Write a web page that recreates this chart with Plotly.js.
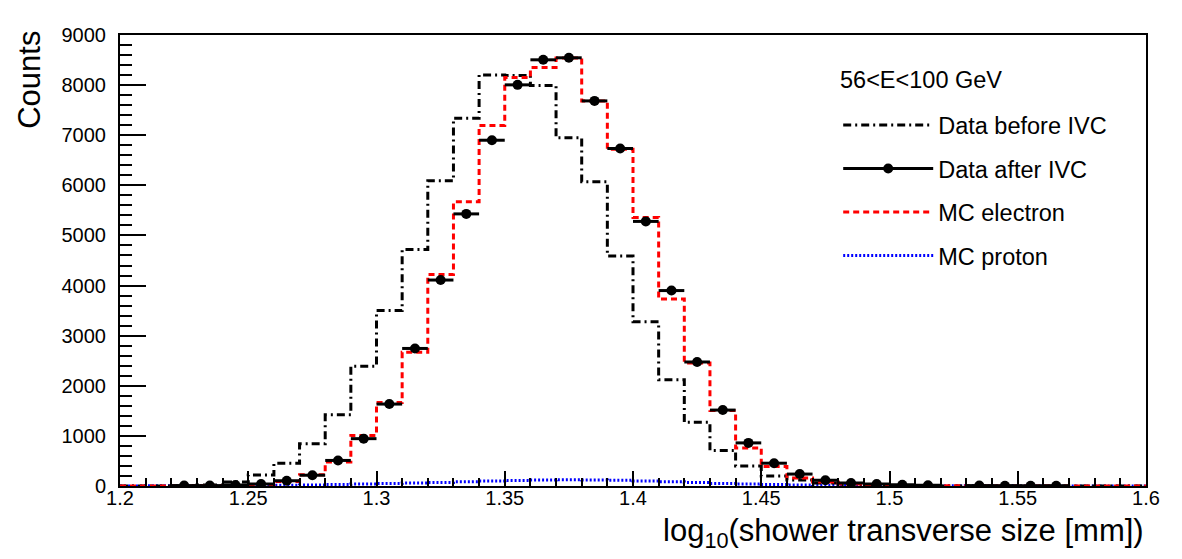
<!DOCTYPE html>
<html>
<head>
<meta charset="utf-8">
<script src="https://cdn.plot.ly/plotly-3.0.1.min.js"></script>
<style>html,body{margin:0;padding:0;background:#fff;}#plot{width:1182px;height:559px;}</style>
</head>
<body>
<div id="plot"></div>
<script>
// Bin edges (41 edges -> 40 bins)
const binEdges = [1.20,1.21,1.22,1.23,1.24,1.25,1.26,1.27,1.28,1.29,
                  1.30,1.31,1.32,1.33,1.34,1.35,1.36,1.37,1.38,1.39,
                  1.40,1.41,1.42,1.43,1.44,1.45,1.46,1.47,1.48,1.49,
                  1.50,1.51,1.52,1.53,1.54,1.55,1.56,1.57,1.58,1.59,1.60];

const dataBeforeIVC = [0,0,5,20,80,220,453,845,1420,2390,
                       3500,4720,6090,7340,8200,8190,7990,6950,6070,4590,
                       3280,2120,1270,710,400,200,120,60,30,15,
                       8,4,2,1,0,0,0,0,0,0];

const dataAfterIVC = [0,0,8,8,20,40,105,215,510,945,
                      1635,2745,4110,5430,6900,8005,8505,8545,7685,6735,
                      5280,3900,2475,1515,860,455,238,115,60,40,
                      25,15,0,8,6,5,5,0,0,0];

const mcElectron = [0,0,2,5,10,25,90,225,480,1010,
                    1665,2670,4220,5670,7195,8150,8350,8540,7685,6720,
                    5360,3730,2455,1505,760,390,160,80,40,20,
                    10,5,3,2,1,1,0,0,0,0];

const mcProton = [2,3,4,6,8,12,16,22,30,40,
                  50,60,72,85,98,110,120,125,122,115,
                  100,85,68,52,40,30,22,15,10,8,
                  6,5,4,3,3,2,2,2,1,1];

const legendLabels = ['Data before IVC','Data after IVC','MC electron','MC proton'];
const legendHeader = '56&lt;E&lt;100 GeV';

const FONT = 'Liberation Sans, Arial, Helvetica, sans-serif';

function stepY(v){ return v.concat([v[v.length-1]]); }
const centers = dataAfterIVC.map((_, i) => (binEdges[i] + binEdges[i+1]) / 2);
const halfW = dataAfterIVC.map((_, i) => (binEdges[i+1] - binEdges[i]) / 2);
const afterY = dataAfterIVC.map(v => v > 0 ? v : null);

const traces = [
  { type:'scatter', mode:'lines', x:binEdges, y:stepY(mcProton), line:{shape:'hv', color:'#0000ff', width:3, dash:'2px,2px'},
    name:legendLabels[3], legendgroup:'d', legendrank:4, hoverinfo:'skip' },
  { type:'scatter', mode:'lines', x:binEdges, y:stepY(dataBeforeIVC), line:{shape:'hv', color:'#000000', width:3, dash:'8px,4px,2px,4px'},
    name:legendLabels[0], legendgroup:'a', legendrank:1, hoverinfo:'skip' },
  { type:'scatter', mode:'lines', x:binEdges, y:stepY(mcElectron), line:{shape:'hv', color:'#ff0000', width:3, dash:'6px,4px'},
    name:legendLabels[2], legendgroup:'c', legendrank:3, hoverinfo:'skip' },
  { type:'scatter', mode:'markers', x:centers, y:afterY, marker:{color:'#000000', size:10},
    error_x:{type:'data', array:halfW, visible:true, width:0, thickness:3, color:'#000000'},
    showlegend:false, hoverinfo:'skip' },
  { type:'scatter', mode:'lines+markers', x:[null], y:[null], marker:{color:'#000000', size:10}, line:{color:'#000000', width:3},
    name:legendLabels[1], legendgroup:'b', legendrank:2 }
];

const layout = {
  width:1182, height:559,
  margin:{l:120, r:36, t:35, b:73},
  paper_bgcolor:'#ffffff', plot_bgcolor:'#ffffff',
  font:{family:FONT, color:'#000000', size:20},
  showlegend:true,
  legend:{
    x:0.70, xanchor:'left', y:0.849, yanchor:'top',
    bgcolor:'rgba(0,0,0,0)', borderwidth:0,
    font:{family:FONT, size:23.5, color:'#000000'},
    traceorder:'grouped', tracegroupgap:10, itemwidth:90
  },
  xaxis:{
    range:[1.2,1.6], dtick:0.05, tick0:1.2,
    ticks:'inside', ticklen:15, tickwidth:2, tickcolor:'#000',
    minor:{dtick:0.01, ticks:'inside', ticklen:8, tickwidth:2, tickcolor:'#000'},
    showline:true, linewidth:2, linecolor:'#000', mirror:true,
    showgrid:false, zeroline:false, ticklabelstandoff:-7,
    tickfont:{family:FONT, size:20}
  },
  yaxis:{
    range:[0,9000], dtick:1000, tick0:0,
    ticks:'inside', ticklen:26, tickwidth:2, tickcolor:'#000',
    minor:{dtick:200, ticks:'inside', ticklen:12, tickwidth:2, tickcolor:'#000'},
    showline:true, linewidth:2, linecolor:'#000', mirror:true,
    showgrid:false, zeroline:false, ticklabelstandoff:8,
    tickfont:{family:FONT, size:20}
  },
  annotations:[
    { text:legendHeader, xref:'paper', yref:'paper', x:0.6998, y:0.9, xanchor:'left', yanchor:'middle',
      showarrow:false, font:{family:FONT, size:23.5, color:'#000'} },
    { text:'Counts', xref:'paper', yref:'paper', x:-0.089, y:1.013, xanchor:'center', yanchor:'top',
      textangle:-90, showarrow:false, font:{family:FONT, size:31, color:'#000'} },
    { text:'log<sub>10</sub>(shower transverse size [mm])', xref:'paper', yref:'paper', x:1.0, y:-0.104,
      xanchor:'right', yanchor:'middle', showarrow:false, font:{family:FONT, size:31, color:'#000'} }
  ]
};

Plotly.newPlot('plot', traces, layout, {displayModeBar:false, staticPlot:true});
</script>
</body>
</html>
